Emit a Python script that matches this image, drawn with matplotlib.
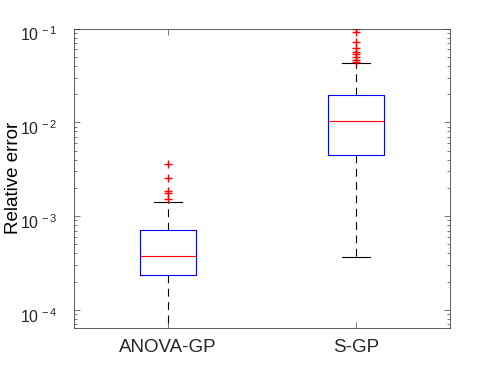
import matplotlib
matplotlib.use("Agg")
import matplotlib.pyplot as plt
from matplotlib.ticker import FuncFormatter
from matplotlib.transforms import ScaledTranslation
import numpy as np

plt.rcParams['font.family'] = ['Liberation Sans', 'DejaVu Sans']
plt.rcParams['mathtext.fontset'] = 'custom'
plt.rcParams['mathtext.rm'] = 'Liberation Sans'
plt.rcParams['mathtext.it'] = 'Liberation Sans:italic'

# box statistics
labels = ["ANOVA-GP", "S-GP"]
q1 = [2.36e-4, 4.52e-3]
med = [3.77e-4, 1.04e-2]
q3 = [7.15e-4, 1.97e-2]
whislo = [4.0e-5, 3.68e-4]
whishi = [1.42e-3, 4.34e-2]
fliers = [
    [3.62e-3, 2.57e-3, 1.86e-3, 1.77e-3, 1.53e-3],
    [9.9e-2, 9.29e-2, 7.26e-2, 6.27e-2, 5.68e-2, 5.41e-2, 5.03e-2, 4.67e-2, 4.44e-2],
]

stats = []
for i in range(len(labels)):
    stats.append(dict(label=labels[i], q1=q1[i], med=med[i], q3=q3[i],
                      whislo=whislo[i], whishi=whishi[i], fliers=fliers[i]))

fig = plt.figure(figsize=(4.98, 3.69), dpi=100)
ax = fig.add_axes([0.1486, 0.111, 0.755, 0.8117])

ax.bxp(stats, positions=[1, 2], widths=0.3,
       boxprops=dict(color='blue', linewidth=0.8),
       medianprops=dict(color='red', linewidth=0.8),
       whiskerprops=dict(color='black', linewidth=0.8, linestyle=(0, (7, 5))),
       capprops=dict(color='black', linewidth=0.8),
       flierprops=dict(marker='+', markeredgecolor='red', markersize=6, linestyle='none'),
       capwidths=0.15)

ax.set_yscale('log')
ax.set_ylim(6.4e-5, 1e-1)
ax.set_xlim(0.5, 2.5)
ax.set_xticks([1, 2])
ax.set_xticklabels(labels)
ax.set_yticks([1e-4, 1e-3, 1e-2, 1e-1])
ax.yaxis.set_major_formatter(FuncFormatter(
    lambda v, p: r'$10^{\,%d}$' % int(round(np.log10(v)))))
ax.set_ylabel("Relative error", fontsize=13.5)
ax.yaxis.set_label_coords(-0.138, 0.5)

ax.tick_params(axis='both', which='both', direction='in', top=True, right=True,
               colors='#404040', labelcolor='#262626', labelsize=13.5, width=0.5)
ax.tick_params(axis='y', labelsize=11.5)
ax.tick_params(axis='both', which='major', length=4)
ax.tick_params(axis='y', which='minor', length=2.5)
ax.tick_params(axis='x', pad=8)
ax.tick_params(axis='y', pad=12)
for s in ax.spines.values():
    s.set_color('#404040')
    s.set_linewidth(0.6)

# MATLAB puts the "10" a little below the tick, exponent above it
shift = ScaledTranslation(0, -3.5 / 72, fig.dpi_scale_trans)
for lab in ax.get_yticklabels():
    lab.set_transform(lab.get_transform() + shift)

fig.savefig("out.png", dpi=100)
